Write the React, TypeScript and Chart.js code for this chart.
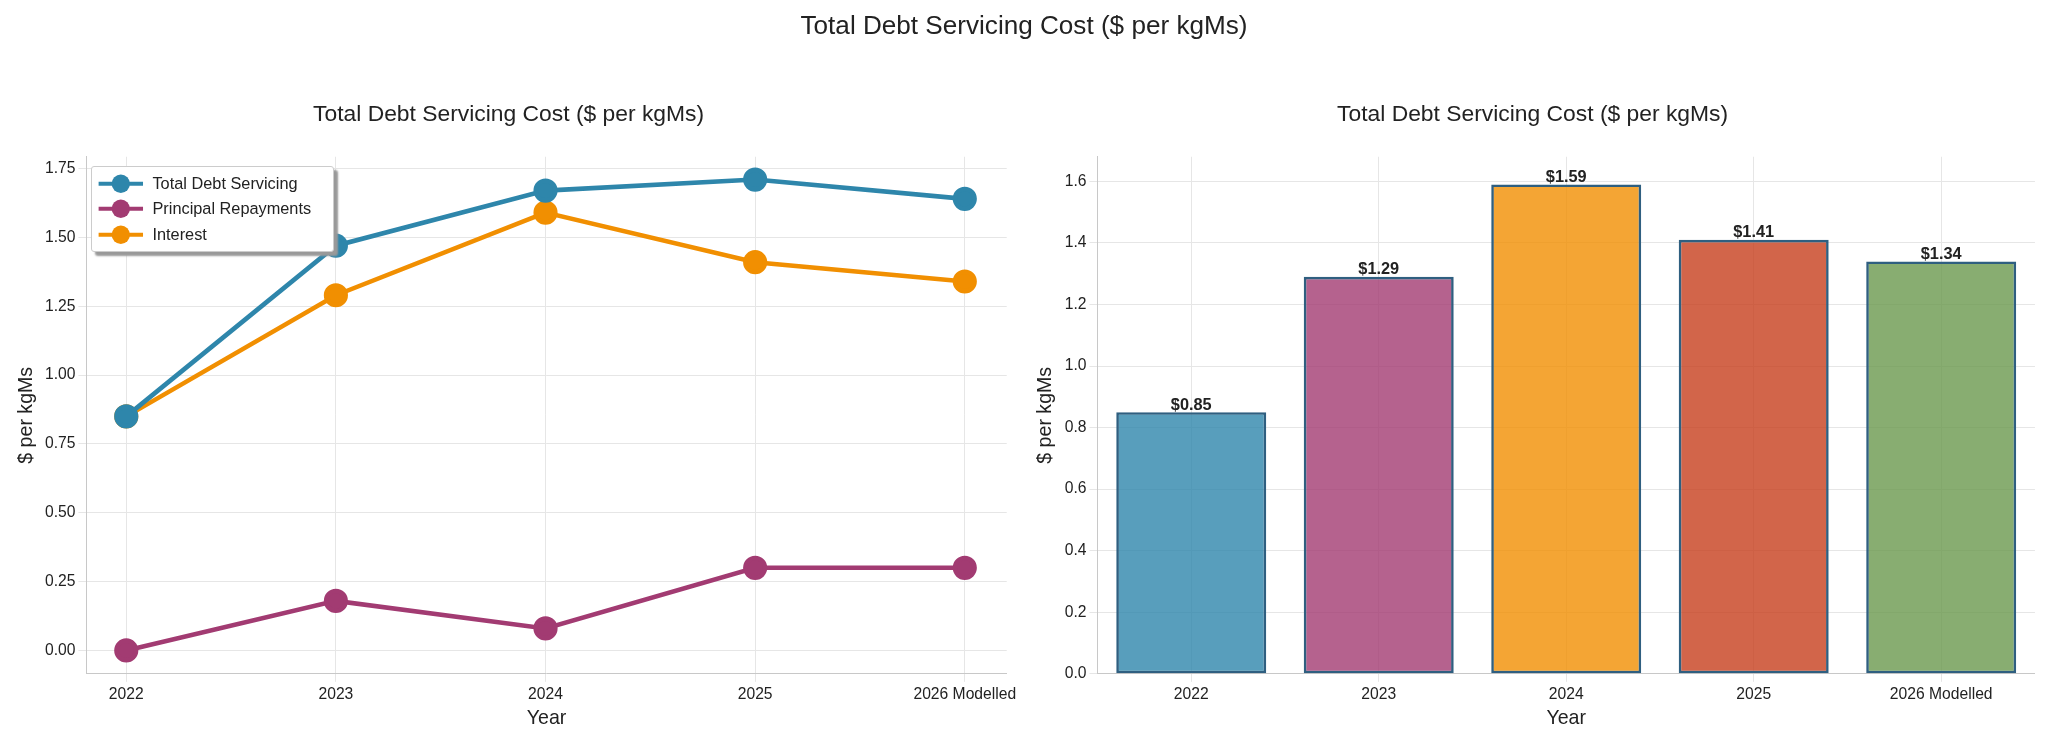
import React, { useEffect, useRef } from "react";
import { Chart, registerables } from "chart.js";
Chart.register(...registerables);

const years = ["2022", "2023", "2024", "2025", "2026 Modelled"];
const totalDebt = [0.85, 1.47, 1.67, 1.71, 1.64];
const principal = [0.0, 0.18, 0.08, 0.3, 0.3];
const interest = [0.85, 1.29, 1.59, 1.41, 1.34];
const barColors = ["#2E86AB", "#A23B72", "#F18F01", "#C73E1D", "#6A994E"];
const FONT = "'Liberation Sans', Arial, sans-serif";
const S = 2048 / 1568;

const gridColor = "#e6e6e6";
const borderColor = "#c8c8c8";
const tickFont = { family: FONT, size: 12 * S };
const axTitleFont = { family: FONT, size: 15 * S };
const titleFont = { family: FONT, size: 17.5 * S, weight: "normal" as const };

function LeftChart() {
  const ref = useRef<HTMLCanvasElement>(null);
  useEffect(() => {
    const mk = (label: string, data: number[], c: string) => ({
      label, data: data.map((y, i) => ({ x: i, y })), borderColor: c, backgroundColor: c,
      borderWidth: 3.5 * S, pointRadius: 7.5 * S, pointHoverRadius: 7.5 * S, tension: 0,
    });
    const ch = new Chart(ref.current!, {
      type: "line",
      data: { datasets: [mk("Total Debt Servicing", totalDebt, "#2E86AB"), mk("Principal Repayments", principal, "#A23B72"), mk("Interest", interest, "#F18F01")] },
      options: {
        animation: false, responsive: false,
        layout: { padding: { top: 77 * S, right: 14 * S, left: 8 * S, bottom: 6 * S } },
        plugins: {
          legend: { display: false },
          title: { display: true, text: "Total Debt Servicing Cost ($ per kgMs)", font: titleFont, color: "#222", padding: { top: 0, bottom: 22 * S } },
        },
        scales: {
          x: {
            type: "linear", min: -0.19, max: 4.2,
            afterBuildTicks: (s: any) => { s.ticks = [0, 1, 2, 3, 4].map((v) => ({ value: v })); },
            ticks: { callback: (v: any) => years[v as number], font: tickFont, color: "#222", autoSkip: false, maxRotation: 0 },
            grid: { color: gridColor }, border: { color: borderColor },
            title: { display: true, text: "Year", font: axTitleFont, color: "#222", padding: 0 },
          },
          y: {
            min: -0.085, max: 1.793,
            afterBuildTicks: (s: any) => { s.ticks = [0, 0.25, 0.5, 0.75, 1, 1.25, 1.5, 1.75].map((v) => ({ value: v })); },
            ticks: { callback: (v: any) => Number(v).toFixed(2), font: tickFont, color: "#222" },
            grid: { color: gridColor }, border: { color: borderColor },
            title: { display: true, text: "$ per kgMs", font: axTitleFont, color: "#222" },
          },
        },
      },
    });
    return () => ch.destroy();
  }, []);
  const items: [string, string][] = [["Total Debt Servicing", "#2E86AB"], ["Principal Repayments", "#A23B72"], ["Interest", "#F18F01"]];
  return (
    <div style={{ position: "absolute", left: 0, top: 0 }}>
      <canvas ref={ref} width={Math.round(785 * S)} height={Math.round(565 * S)} />
      <div style={{ position: "absolute", left: 70 * S, top: 127 * S, width: 178 * S, background: "#fff", border: "1px solid #ccc", borderRadius: 3, boxShadow: "4px 4px 2px #999", padding: `${3 * S}px ${3 * S}px`, fontFamily: FONT, fontSize: 12.5 * S, color: "#222" }}>
        {items.map(([t, c]) => (
          <div key={t} style={{ display: "flex", alignItems: "center", height: 19.5 * S }}>
            <svg width={38 * S} height={18 * S} style={{ marginRight: 5 * S }}>
              <line x1={2 * S} y1={9 * S} x2={36 * S} y2={9 * S} stroke={c} strokeWidth={3 * S} />
              <circle cx={19 * S} cy={9 * S} r={7 * S} fill={c} />
            </svg>
            {t}
          </div>
        ))}
      </div>
    </div>
  );
}

function RightChart() {
  const ref = useRef<HTMLCanvasElement>(null);
  useEffect(() => {
    const labelPlugin = {
      id: "barLabels",
      afterDatasetsDraw(chart: any) {
        const ctx = chart.ctx;
        const meta = chart.getDatasetMeta(0);
        ctx.save();
        ctx.font = `bold ${12.5 * S}px ${FONT}`;
        ctx.fillStyle = "#222";
        ctx.textAlign = "center";
        ctx.textBaseline = "bottom";
        meta.data.forEach((b: any, i: number) => ctx.fillText("$" + interest[i].toFixed(2), b.x, b.y + 1));
        ctx.restore();
      },
    };
    const ch = new Chart(ref.current!, {
      type: "bar",
      data: { labels: years, datasets: [{ data: interest, backgroundColor: barColors.map((c) => c + "CC"), borderColor: "#2F5F80", borderWidth: 2 * S, categoryPercentage: 1, barPercentage: 0.8, borderSkipped: false }] },
      options: {
        animation: false, responsive: false,
        layout: { padding: { top: 77 * S, right: 10 * S, left: 4 * S, bottom: 6 * S } },
        plugins: {
          legend: { display: false },
          title: { display: true, text: "Total Debt Servicing Cost ($ per kgMs)", font: titleFont, color: "#222", padding: { top: 0, bottom: 22 * S } },
        },
        scales: {
          x: {
            ticks: { font: tickFont, color: "#222", maxRotation: 0 },
            grid: { color: gridColor, offset: false }, border: { color: borderColor },
            title: { display: true, text: "Year", font: axTitleFont, color: "#222", padding: 0 },
          },
          y: {
            min: 0, max: 1.68,
            afterBuildTicks: (s: any) => { s.ticks = [0, 0.2, 0.4, 0.6, 0.8, 1, 1.2, 1.4, 1.6].map((v) => ({ value: v })); },
            ticks: { callback: (v: any) => Number(v).toFixed(1), font: tickFont, color: "#222" },
            grid: { color: gridColor }, border: { color: borderColor },
            title: { display: true, text: "$ per kgMs", font: axTitleFont, color: "#222" },
          },
        },
      },
      plugins: [labelPlugin],
    });
    return () => ch.destroy();
  }, []);
  return (
    <div style={{ position: "absolute", left: Math.round(785 * S), top: 0 }}>
      <canvas ref={ref} width={2048 - Math.round(785 * S)} height={Math.round(565 * S)} />
    </div>
  );
}

export default function App() {
  return (
    <div style={{ position: "absolute", left: 0, top: 0, width: 2048, height: 739, background: "#fff", overflow: "hidden" }}>
      <LeftChart />
      <RightChart />
      <div style={{ position: "absolute", top: 8 * S, left: 0, width: 2048, textAlign: "center", fontFamily: FONT, fontSize: 20 * S, color: "#222" }}>
        Total Debt Servicing Cost ($ per kgMs)
      </div>
    </div>
  );
}
